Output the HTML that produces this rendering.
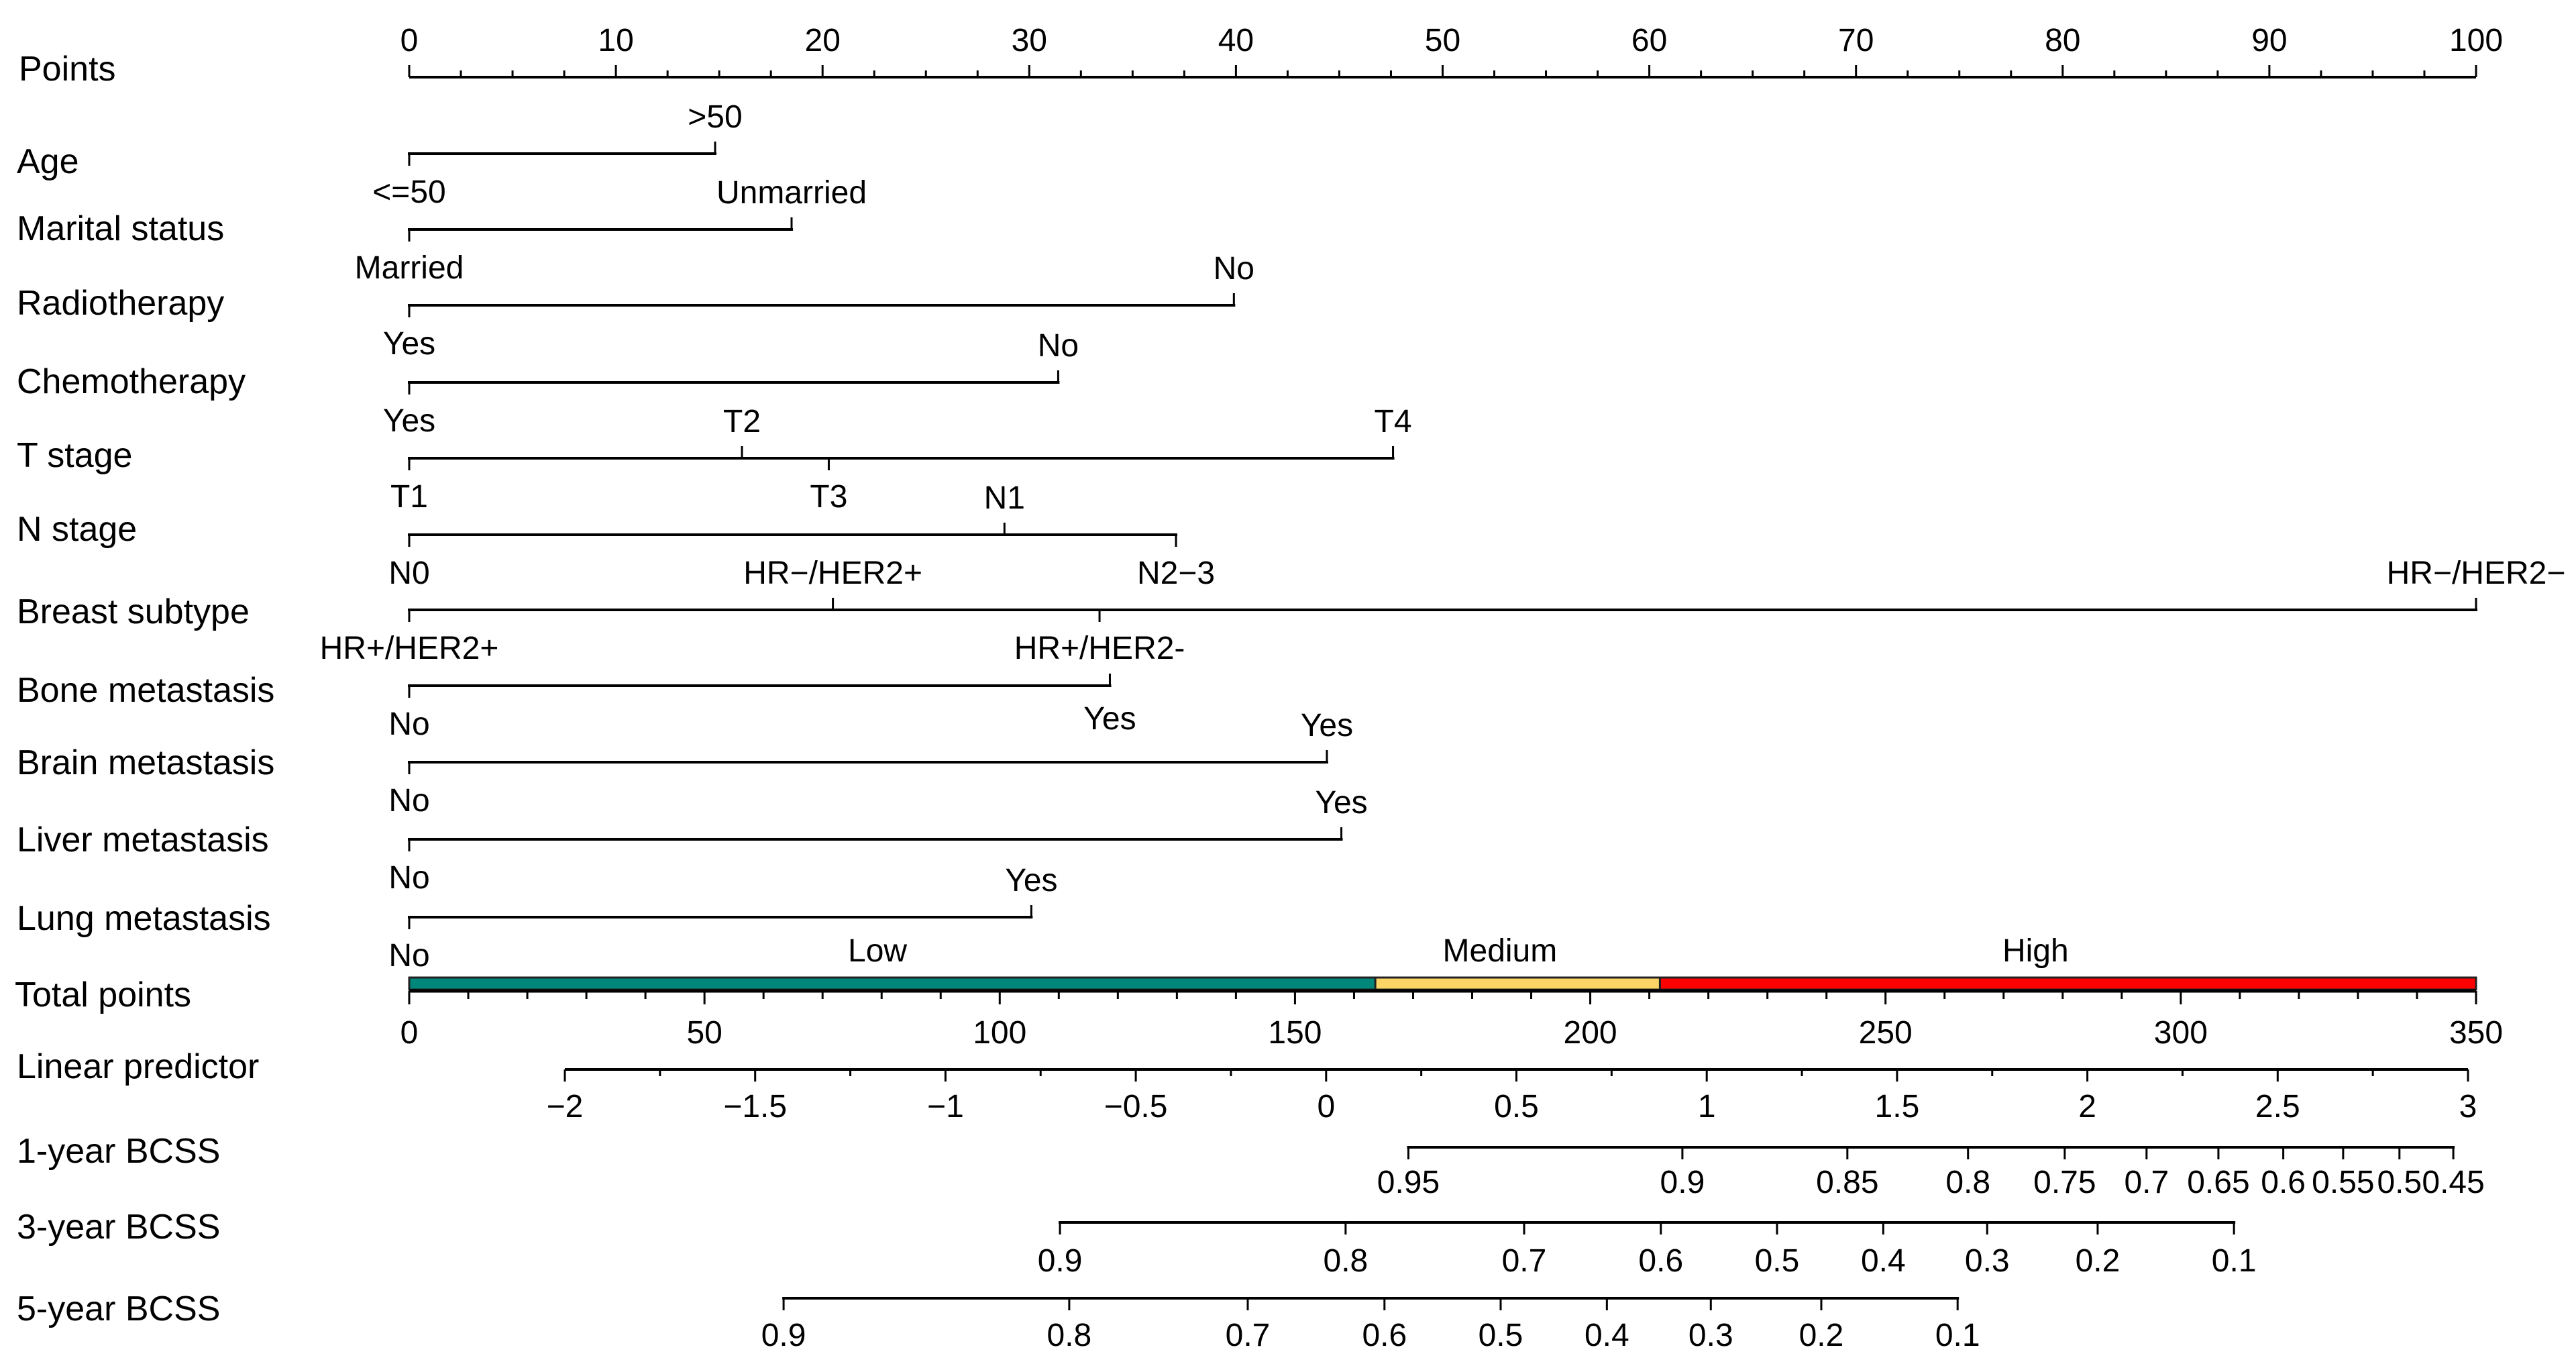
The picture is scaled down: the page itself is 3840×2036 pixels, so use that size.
<!DOCTYPE html>
<html><head><meta charset="utf-8"><style>
html,body{margin:0;padding:0;background:#fff;}
svg{display:block;}
text{font-family:"Liberation Sans",Arial,sans-serif;font-size:48px;fill:#000;}
text.big{font-size:52px;}
</style></head><body>
<svg id="chart" width="3840" height="2036" viewBox="0 0 3840 2036" xmlns="http://www.w3.org/2000/svg"></svg>
<script>
// ---- data ----
const rowNames = ["Age","Marital status","Radiotherapy","Chemotherapy","T stage","N stage","Breast subtype","Bone metastasis","Brain metastasis","Liver metastasis","Lung metastasis"];
const rowLevels = [
  ["<=50",">50"],
  ["Married","Unmarried"],
  ["Yes","No"],
  ["Yes","No"],
  ["T1","T2","T3","T4"],
  ["N0","N1","N2\u22123"],
  ["HR+/HER2+","HR\u2212/HER2+","HR+/HER2-","HR\u2212/HER2\u2212"],
  ["No","Yes"],
  ["No","Yes"],
  ["No","Yes"],
  ["No","Yes"]
];
const rowPoints = [
  [0,14.8],[0,18.5],[0,39.9],[0,31.4],[0,16.1,20.3,47.6],[0,28.8,37.1],
  [0,20.5,33.4,100],[0,33.9],[0,44.4],[0,45.1],[0,30.1]
];
// label side: 1 = above (tick up), -1 = below (tick down)
const rowSides = [
  [-1,1],[-1,1],[-1,1],[-1,1],[-1,1,-1,1],[-1,1,-1],[-1,1,-1,1],[-1,2],[-1,1],[-1,1],[-1,1]
];
const pointsTicks = [0,10,20,30,40,50,60,70,80,90,100];
const totalTicks = [0,50,100,150,200,250,300,350];
const riskNames = ["Low","Medium","High"];
const riskBounds = [0,163.6,211.8,350];
const riskLabelAt = [79.3,184.7,275.4];
const riskColors = ["#00877A","#FDD466","#FF0000"];
const lpTicks = [-2,-1.5,-1,-0.5,0,0.5,1,1.5,2,2.5,3];
const lpTickLabels = ["\u22122","\u22121.5","\u22121","\u22120.5","0","0.5","1","1.5","2","2.5","3"];
const surv1 = [0.95,0.9,0.85,0.8,0.75,0.7,0.65,0.6,0.55,0.5,0.45];
const surv3 = [0.9,0.8,0.7,0.6,0.5,0.4,0.3,0.2,0.1];
const surv5 = [0.9,0.8,0.7,0.6,0.5,0.4,0.3,0.2,0.1];
const survNames = ["1-year BCSS","3-year BCSS","5-year BCSS"];
const baseLogS = [-0.04132,-0.2120,-0.4382];

// ---- layout ----
const NS="http://www.w3.org/2000/svg";
const svg=document.getElementById('chart');
const X0=610, X100=3691;
const xPts=p=>X0+(X100-X0)*p/100;
const xTot=t=>X0+(X100-X0)*t/350;
const xLP=v=>842+(v+2)*567.4;
const lpOfS=(s,b)=>Math.log(Math.log(s)/b);
const rowY=[229,342,455,570,683,797,909,1022,1136,1251,1367];
const rowLabelY=[240,340,451,568,678,788,911,1028,1136,1251,1368];
function el(tag,attrs,parent){const e=document.createElementNS(NS,tag);for(const k in attrs)e.setAttribute(k,attrs[k]);(parent||svg).appendChild(e);return e;}
function line(x1,y1,x2,y2,w,p){return el('line',{x1,y1,x2,y2,stroke:'#000','stroke-width':w||4,'stroke-linecap':'butt'},p);}
function txt(s,x,y,anchor,p,cls){const t=el('text',{x,y,'text-anchor':anchor||'middle'},p);if(cls)t.setAttribute('class',cls);t.textContent=s;return t;}

// Points axis
const gP=el('g',{});


const pl=txt("Points",28,120,'start',gP,'big');


line(X0,115,X100,115,4,gP);
for(let p=0;p<=100;p+=2.5){const maj=(p%10===0);line(xPts(p),115,xPts(p),115-(maj?18:10),3,gP);}
pointsTicks.forEach(p=>{const t=txt(String(p),xPts(p),76,'middle',gP);

});

// variable rows
rowNames.forEach((name,i)=>{
  const g=el('g',{});
  
  
  const y=rowY[i];
  const lb=txt(name,25,rowLabelY[i]+18,'start',g,'big');
  
  
  const pts=rowPoints[i];
  const mx=Math.max(...pts);
  line(xPts(0)-2,y,xPts(mx)+2,y,4,g);
  pts.forEach((p,j)=>{
    const side=rowSides[i][j];
    const up=side>0;
    line(xPts(p),y,xPts(p),up?y-18:y+18,3,g);
    const ly = side===2 ? y+48+17 : (up? y-56+17 : y+56+17);
    const t=txt(rowLevels[i][j],xPts(p),ly,'middle',g);
    
    
  });
});

// total points
const gT=el('g',{});


const tl=txt("Total points",22,1500,'start',gT,'big');


riskNames.forEach((r,i)=>{
  const x1=xTot(riskBounds[i]),x2=xTot(riskBounds[i+1]);
  const rc=el('rect',{x:x1,y:1457,width:x2-x1,height:18,fill:riskColors[i],stroke:'#222','stroke-width':3},gT);
  
  
  const t=txt(r,xTot(riskLabelAt[i]),1433,'middle',gT);
  
  
});
line(X0,1477,X100,1477,5,gT);
for(let t=0;t<=350;t+=10){const maj=(t%50===0);line(xTot(t),1477,xTot(t),1477+(maj?20:12),3,gT);}
totalTicks.forEach(t=>{const e=txt(String(t),xTot(t),1555,'middle',gT);

});

// linear predictor
const gL=el('g',{});


const ll=txt("Linear predictor",25,1607,'start',gL,'big');


line(xLP(-2),1594,xLP(3),1594,4,gL);
for(let v=-2;v<=3.001;v+=0.25){const maj=Math.abs(v*2-Math.round(v*2))<1e-6;line(xLP(v),1594,xLP(v),1594+(maj?18:10),3,gL);}
lpTicks.forEach((v,i)=>{const e=txt(lpTickLabels[i],xLP(v),1665,'middle',gL);

});

// survival axes
const survVals=[surv1,surv3,surv5];
const survY=[1710,1822,1935];
const survLabY=[1715,1828,1950];
const survTxtY=[1778,1895,2006];
survNames.forEach((n,i)=>{
  const g=el('g',{});
  
  
  const lb=txt(n,25,survLabY[i]+18,'start',g,'big');
  
  
  const xs=survVals[i].map(s=>xLP(lpOfS(s,baseLogS[i])));
  line(Math.min(...xs)-2,survY[i],Math.max(...xs)+2,survY[i],4,g);
  survVals[i].forEach((s,j)=>{
    line(xs[j],survY[i],xs[j],survY[i]+18,3,g);
    const t=txt(String(s),xs[j],survTxtY[i],'middle',g);
    
    
  });
});
</script>
</body></html>
